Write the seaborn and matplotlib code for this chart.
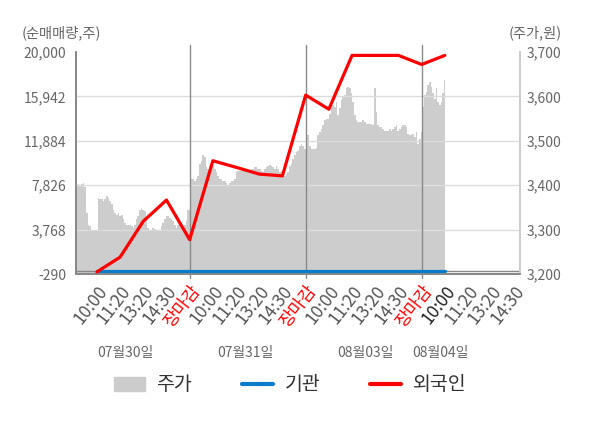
import numpy as np
import matplotlib
matplotlib.use("Agg")
import matplotlib.pyplot as plt
import seaborn as sns
from matplotlib.patches import Patch
from matplotlib.lines import Line2D

# x-axis categories
tick_labels = ["10:00", "11:20", "13:20", "14:30", "장마감"] * 3 + ["10:00", "11:20", "13:20", "14:30"]
day_labels = ["07월30일", "07월31일", "08월03일", "08월04일"]

# net buying (shares) at each tick point, 10:00 day1 .. 10:00 day4
foreign = [-100, 1250, 4530, 6470, 2850, 10060, 9460, 8840, 8680,
           16060, 14770, 19690, 19690, 19690, 18860, 19690]
institution = [0] * 16

# stock price (won), intraday
price_day1 = [3398, 3402, 3398, 3402, 3406, 3395, 3338, 3311, 3307, 3296, 3296, 3298, 3298,
              3372, 3370, 3368, 3364, 3368, 3376, 3372, 3364, 3357, 3345, 3338, 3334, 3338,
              3330, 3334, 3323, 3315, 3311, 3311, 3311, 3307, 3304, 3311, 3323, 3330, 3345,
              3349, 3345, 3341, 3323, 3304, 3300, 3300, 3304, 3302, 3300, 3296, 3300, 3308,
              3315, 3323, 3330, 3330, 3326, 3323, 3319, 3311, 3304, 3311, 3315, 3315, 3307,
              3311, 3320, 3345, 3345]
price_day2 = [3415, 3415, 3410, 3414, 3421, 3448, 3455, 3467, 3463, 3440, 3436, 3444, 3448,
              3444, 3436, 3429, 3421, 3414, 3414, 3410, 3410, 3406, 3398, 3406, 3410, 3410,
              3414, 3429, 3432, 3432, 3436, 3432, 3436, 3436, 3432, 3432, 3436, 3436, 3440,
              3440, 3436, 3436, 3432, 3429, 3436, 3440, 3444, 3446, 3444, 3440, 3436, 3444,
              3436, 3429, 3432, 3429, 3421, 3425, 3429, 3444, 3448, 3459, 3467, 3474, 3478,
              3489, 3493, 3489, 3482]
price_day3 = [3482, 3512, 3489, 3482, 3482, 3482, 3484, 3512, 3520, 3527, 3535, 3546, 3550,
              3550, 3561, 3573, 3580, 3576, 3588, 3557, 3573, 3591, 3599, 3603, 3618, 3622,
              3618, 3607, 3588, 3557, 3546, 3542, 3542, 3542, 3546, 3542, 3538, 3538, 3538,
              3538, 3535, 3618, 3565, 3535, 3531, 3531, 3527, 3523, 3523, 3523, 3527, 3523,
              3527, 3531, 3535, 3523, 3527, 3531, 3535, 3535, 3531, 3516, 3512, 3512, 3516,
              3508, 3520, 3493, 3504, 3520]
price_day4 = [3576, 3603, 3610, 3625, 3632, 3622, 3607, 3595, 3618, 3588, 3580, 3588, 3607, 3637]

left_ticks = [-290, 3768, 7826, 11884, 15942, 20000]
right_ticks = [3200, 3300, 3400, 3500, 3600, 3700]

price = price_day1 + price_day2 + price_day3 + price_day4
x_price = np.linspace(0.13, 16.0, len(price))
x_flow = np.arange(1, len(foreign) + 1)

sns.set_theme(style="white")
plt.rcParams["font.family"] = ["Noto Sans CJK KR", "DejaVu Sans"]

fig = plt.figure(figsize=(6, 4.28), dpi=100)
ax = fig.add_axes([76 / 600, 1 - 274 / 428, 444 / 600, 222 / 428])
axp = ax.twinx()
ax.set_zorder(axp.get_zorder() + 1)
ax.patch.set_visible(False)
axp.set_facecolor("#f4f4f4")

# price area (right axis)
axp.fill_between(x_price, 3200, price, step="mid", color="#cdcdcd", lw=0)
axp.set_ylim(3200, 3700)
axp.set_yticks(right_ticks)
axp.set_yticklabels([f"{v:,}" for v in right_ticks])

# grid + separators
for v in left_ticks[1:-1]:
    ax.axhline(v, color="#dcdcdc", lw=1, zorder=1)
ax.axhline(0, color="#888888", lw=1, zorder=1)
for d in [5, 10, 15]:
    ax.axvline(d, ymin=-0.02, ymax=1.03, color="#8a8a8a", lw=1, clip_on=False, zorder=2)

sns.lineplot(x=x_flow, y=institution, ax=ax, color="#0a7bc8", lw=2.3, zorder=3)
sns.lineplot(x=x_flow, y=foreign, ax=ax, color="#ff0000", lw=2.3, zorder=4)

ax.set_xlim(0.1, 19.24)
ax.set_ylim(-290, 20000)
ax.set_yticks(left_ticks)
ax.set_yticklabels([f"{v:,}" for v in left_ticks])

ax.set_xticks(range(1, len(tick_labels) + 1))
ax.set_xticklabels(tick_labels, rotation=52, ha="right", rotation_mode="anchor")
for i, t in enumerate(ax.get_xticklabels()):
    if tick_labels[i] == "장마감":
        t.set_color("#ff0000")
    elif i == 15:
        t.set_color("#222222")
    else:
        t.set_color("#555555")

ax.tick_params(axis="x", length=0, pad=6, labelsize=12.5)
ax.tick_params(axis="y", length=0, pad=7, labelsize=10, labelcolor="#666666")
axp.tick_params(axis="y", length=0, pad=5, labelsize=10, labelcolor="#666666")

for a in (ax, axp):
    a.spines["top"].set_visible(False)
    a.spines["left"].set_color("#888888")
    a.spines["bottom"].set_color("#888888")
    a.spines["right"].set_color("#cccccc")
    a.set_xlabel("")
    a.set_ylabel("")

fig.text(22 / 600, 1 - 33 / 428, "(순매매량,주)", ha="left", va="center", color="#666666", fontsize=10.3)
fig.text(562 / 600, 1 - 33 / 428, "(주가,원)", ha="right", va="center", color="#666666", fontsize=10.3)

for xp, lab in zip([125, 245, 365, 440], day_labels):
    fig.text(xp / 600, 1 - 353 / 428, lab, ha="center", va="center", color="#666666", fontsize=10)

handles = [Patch(color="#cccccc"),
           Line2D([], [], color="#0a7bc8", lw=3),
           Line2D([], [], color="#ff0000", lw=3)]
fig.legend(handles, ["주가", "기관", "외국인"], ncol=3, loc="center",
           bbox_to_anchor=(290 / 600, 1 - 385 / 428), frameon=False, fontsize=14,
           handlelength=1.6, handletextpad=0.6, columnspacing=2.55, labelcolor="#333333")

fig.savefig("out.png", dpi=100)
